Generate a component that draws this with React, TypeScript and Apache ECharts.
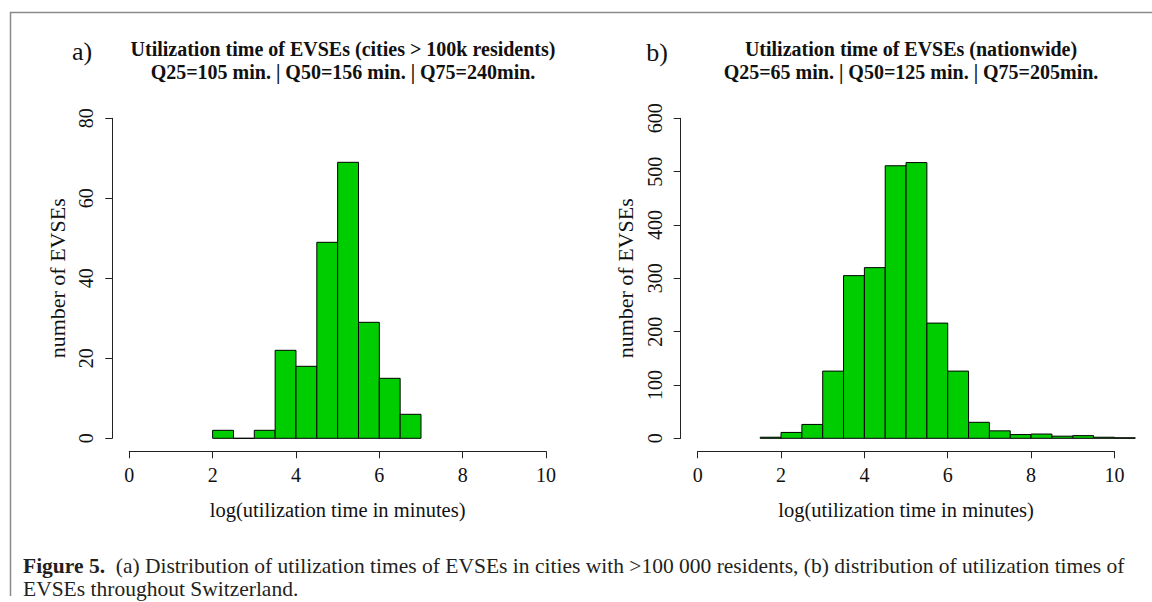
import React, { useEffect, useRef } from "react";
import * as echarts from "echarts";

// Histogram bin edges (log of utilization time in minutes) and counts
const leftBinStarts = [2.0, 2.5, 3.0, 3.5, 4.0, 4.5, 5.0, 5.5, 6.0, 6.5];
const leftBinEnds = [2.5, 3.0, 3.5, 4.0, 4.5, 5.0, 5.5, 6.0, 6.5, 7.0];
const leftCounts = [2, 0, 2, 22, 18, 49, 69, 29, 15, 6];

const rightBinStarts = [1.5, 2.0, 2.5, 3.0, 3.5, 4.0, 4.5, 5.0, 5.5, 6.0, 6.5, 7.0, 7.5, 8.0, 8.5, 9.0, 9.5, 10.0];
const rightBinEnds = [2.0, 2.5, 3.0, 3.5, 4.0, 4.5, 5.0, 5.5, 6.0, 6.5, 7.0, 7.5, 8.0, 8.5, 9.0, 9.5, 10.0, 10.5];
const rightCounts = [2, 11, 26, 126, 305, 320, 511, 517, 216, 126, 30, 14, 7, 8, 4, 5, 2, 1];

const xTicks = [0, 2, 4, 6, 8, 10];
const leftYMax = 80;
const leftYInterval = 20;
const rightYMax = 600;
const rightYInterval = 100;

const leftTitle = "Utilization time of EVSEs (cities > 100k residents)\nQ25=105 min. | Q50=156 min. | Q75=240min.";
const rightTitle = "Utilization time of EVSEs (nationwide)\nQ25=65 min. | Q50=125 min. | Q75=205min.";
const xName = "log(utilization time in minutes)";
const yName = "number of EVSEs";
const captionLine1Bold = "Figure 5.";
const captionLine1 = "  (a) Distribution of utilization times of EVSEs in cities with >100 000 residents, (b) distribution of utilization times of";
const captionLine2 = "EVSEs throughout Switzerland.";

const FONT = '"Liberation Serif", "DejaVu Serif", serif';
const BAR_FILL = "#00CD00";
const TICK_FS = 20;

function buildData(starts: number[], ends: number[], counts: number[]) {
  return counts.map((c, i) => [starts[i], ends[i], c]);
}

function renderHistBar(params: any, api: any) {
  const p0 = api.coord([api.value(0), 0]);
  const p1 = api.coord([api.value(1), api.value(2)]);
  return {
    type: "rect",
    shape: { x: p0[0], y: p1[1], width: p1[0] - p0[0], height: p0[1] - p1[1] },
    style: { fill: BAR_FILL, stroke: "#000", lineWidth: 1 },
  };
}

function xAxisCfg(gridIndex: number) {
  return {
    gridIndex,
    type: "value",
    min: 0,
    max: 10,
    interval: 2,
    offset: 13,
    axisLine: { show: true, onZero: false, lineStyle: { color: "#222", width: 1 } },
    axisTick: { show: true, length: 7, lineStyle: { color: "#222", width: 1 } },
    axisLabel: {
      color: "#111",
      fontFamily: FONT,
      fontSize: TICK_FS,
      margin: 14,
      formatter: (v: number) => (xTicks.includes(v) ? String(v) : ""),
    },
    splitLine: { show: false },
    name: xName,
    nameLocation: "middle",
    nameGap: 48,
    nameTextStyle: { color: "#111", fontFamily: FONT, fontSize: 20.5 },
  };
}

function yAxisCfg(gridIndex: number, max: number, interval: number) {
  return {
    gridIndex,
    type: "value",
    min: 0,
    max,
    interval,
    offset: 17,
    axisLine: { show: true, onZero: false, lineStyle: { color: "#222", width: 1 } },
    axisTick: { show: true, length: 7, lineStyle: { color: "#222", width: 1 } },
    axisLabel: {
      color: "#111",
      fontFamily: FONT,
      fontSize: TICK_FS,
      margin: 16,
      rotate: 90,
    },
    splitLine: { show: false },
    name: yName,
    nameLocation: "middle",
    nameRotate: 90,
    nameGap: 44,
    nameTextStyle: { color: "#111", fontFamily: FONT, fontSize: 22 },
  };
}

export default function App() {
  const ref = useRef<HTMLDivElement>(null);

  useEffect(() => {
    document.body.style.margin = "0";
    if (!ref.current) return;
    const chart = echarts.init(ref.current, null, { renderer: "svg" });
    const titleStyle = { fontFamily: FONT, fontSize: 20, fontWeight: "bold", color: "#111", lineHeight: 23 };
    chart.setOption({
      animation: false,
      backgroundColor: "#fff",
      textStyle: { fontFamily: FONT },
      title: [
        { text: leftTitle, left: 338, top: 32, textAlign: "center", textStyle: titleStyle },
        { text: rightTitle, left: 906, top: 32, textAlign: "center", textStyle: titleStyle },
      ],
      grid: [
        { left: 129.3, top: 118.3, width: 416.7, height: 320 },
        { left: 697.7, top: 118.3, width: 416.7, height: 320 },
      ],
      xAxis: [xAxisCfg(0), xAxisCfg(1)],
      yAxis: [yAxisCfg(0, leftYMax, leftYInterval), yAxisCfg(1, rightYMax, rightYInterval)],
      series: [
        {
          type: "custom",
          xAxisIndex: 0,
          yAxisIndex: 0,
          clip: false,
          renderItem: renderHistBar,
          encode: { x: [0, 1], y: 2 },
          data: buildData(leftBinStarts, leftBinEnds, leftCounts),
        },
        {
          type: "custom",
          xAxisIndex: 1,
          yAxisIndex: 1,
          clip: false,
          renderItem: renderHistBar,
          encode: { x: [0, 1], y: 2 },
          data: buildData(rightBinStarts, rightBinEnds, rightCounts),
        },
      ],
      graphic: [
        {
          type: "polyline",
          shape: { points: [[10.5, 596], [10.5, 12.5], [1152, 12.5]] },
          style: { stroke: "#8a8a8a", lineWidth: 1.5, fill: null },
          silent: true,
        },
        {
          type: "text",
          x: 82,
          y: 51,
          style: { text: "a)", font: `26px ${FONT}`, fill: "#111", align: "center", verticalAlign: "middle" },
        },
        {
          type: "text",
          x: 657,
          y: 52,
          style: { text: "b)", font: `26px ${FONT}`, fill: "#111", align: "center", verticalAlign: "middle" },
        },
        {
          type: "text",
          x: 23,
          y: 577,
          style: {
            text: `{b|${captionLine1Bold}}{n|${captionLine1}}\n{n|${captionLine2}}`,
            verticalAlign: "middle",
            rich: {
              b: { fontFamily: FONT, fontSize: 21.5, fontWeight: "bold", fill: "#231f20", lineHeight: 23 },
              n: { fontFamily: FONT, fontSize: 21.5, fill: "#231f20", lineHeight: 23 },
            },
          },
        },
      ],
    });
    return () => chart.dispose();
  }, []);

  return <div ref={ref} style={{ width: 1152, height: 602 }} />;
}
